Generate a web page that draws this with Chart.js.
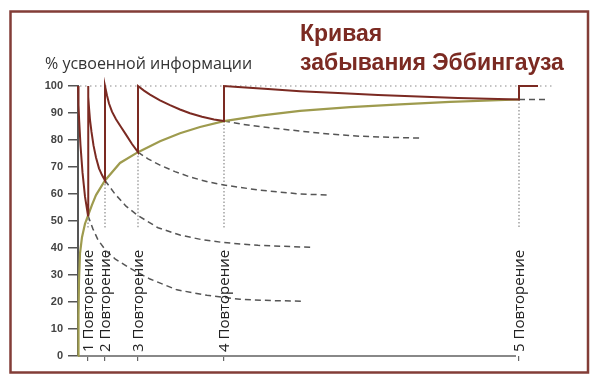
<!DOCTYPE html>
<html>
<head>
<meta charset="utf-8">
<script src="https://cdn.jsdelivr.net/npm/chart.js@4"></script>
<style>
html,body{margin:0;padding:0;background:#fff;}
#wrap{width:600px;height:384px;position:relative;}
</style>
</head>
<body>
<div id="wrap"><canvas id="c" width="600" height="384"></canvas></div>
<script>
// Time axis in arbitrary units; repetition moments
const repTimes = [10, 27, 60, 146, 441];
const repRetention = [52, 65, 75.5, 87, 95];
const repLabels = ["1 Повторение", "2 Повторение", "3 Повторение", "4 Повторение", "5 Повторение"];
const yTicks = [0, 10, 20, 30, 40, 50, 60, 70, 80, 90, 100];
const titleLines = ["Кривая", "забывания Эббингауза"];
const yTitle = "% усвоенной информации";

// Sawtooth retention curve with repetitions (x, y)
const forgetX = [0, 0.5, 1.2, 2.5, 4.5, 7, 10,
  10, 10.5, 11, 12, 13.5, 15.5, 18, 21, 24, 27,
  27, 29, 31, 34, 38, 43, 48, 54, 60,
  60, 66, 72, 82, 92, 102, 112, 124, 136, 146,
  146, 160, 190, 222, 260, 300, 340, 380, 420, 441,
  441, 460];
const forgetY = [100, 93, 87, 78, 68, 59, 52,
  100, 96, 92, 87.5, 83, 78, 73.5, 69.5, 67, 65,
  100, 96.5, 93.5, 90.5, 87.7, 84.8, 82, 78.5, 75.5,
  100, 98.3, 96.8, 94.7, 92.9, 91.3, 89.9, 88.6, 87.6, 87,
  100, 99.6, 98.9, 98.1, 97.4, 96.7, 96.1, 95.6, 95.2, 95,
  100, 100];

// Learning curve (retention level after each repetition)
const learnX = [0, 0.5, 1, 2, 4, 7, 10, 14, 18, 27, 42, 60, 82, 102, 122, 146, 182, 222, 272, 322, 372, 441];
const learnY = [0, 15, 28, 38, 44, 49, 52, 56, 59.6, 65, 71.5, 75.5, 79.5, 82.5, 84.8, 87, 89, 90.8, 92.2, 93.2, 94.1, 95];

// Forgetting without repetition (dashed)
const dash1X = [10, 15, 20, 28, 37, 52, 72, 99, 129, 162, 195, 225];
const dash1Y = [52, 47, 43, 39, 36, 32.5, 28.5, 24.5, 22.5, 21, 20.5, 20.3];
const dash2X = [27, 37, 48, 60, 80, 102, 125, 146, 180, 222, 235];
const dash2Y = [65, 60, 55.5, 52, 47.5, 44.8, 43, 42, 41, 40.4, 40.3];
const dash3X = [60, 70, 82, 97, 112, 130, 146, 180, 222, 252];
const dash3Y = [75.5, 73, 70.7, 68.3, 66.3, 64.5, 63.3, 61.5, 60, 59.6];
const dash4X = [146, 165, 190, 222, 252, 282, 312, 342];
const dash4Y = [87, 85.8, 84.6, 83.3, 82.2, 81.4, 81, 80.7];
const dash5X = [441, 470];
const dash5Y = [95, 95];

const topLineX = [2, 477];
const topLineY = [100, 100];
const axisLineX = [0, 438];
const axisLineY = [0, 0];
const guideBottom = 47.4;

const pts = (xs, ys) => xs.map((x, i) => ({x: x, y: ys[i]}));

const RED = '#7b2a22';
const GREEN = '#9e9b4e';
const DASH = '#555555';
const DOT = '#8a8a8a';

const datasets = [];
datasets.push({data: pts(forgetX, forgetY), borderColor: RED, borderWidth: 2, order: 0});
datasets.push({data: pts(learnX, learnY), borderColor: GREEN, borderWidth: 2.2, order: 1});
[[dash1X, dash1Y], [dash2X, dash2Y], [dash3X, dash3Y], [dash4X, dash4Y], [dash5X, dash5Y]].forEach(d => {
  datasets.push({data: pts(d[0], d[1]), borderColor: DASH, borderWidth: 1.5, borderDash: [6, 4], order: 2});
});
datasets.push({data: pts(topLineX, topLineY), borderColor: DOT, borderWidth: 1.2, borderDash: [1.5, 3.5], order: 3});
repTimes.forEach((t, i) => {
  datasets.push({data: [{x: t, y: repRetention[i]}, {x: t, y: guideBottom}], borderColor: DOT, borderWidth: 1.2, borderDash: [1.5, 2], order: 3});
});
datasets.push({data: pts(axisLineX, axisLineY), borderColor: '#888', borderWidth: 2, order: 5});
datasets.forEach(d => { d.fill = false; d.pointRadius = 0; d.tension = 0; d.clip = false; });

const decor = {
  id: 'decor',
  beforeDraw(chart) {
    const ctx = chart.ctx;
    ctx.save();
    ctx.strokeStyle = '#833d37';
    ctx.lineWidth = 2.5;
    ctx.strokeRect(10.5, 11.5, 577.5, 361);
    ctx.restore();
  },
  afterDraw(chart) {
    const ctx = chart.ctx;
    const xs = chart.scales.x;
    ctx.save();
    // title
    ctx.fillStyle = RED;
    ctx.font = 'bold 23px "Liberation Sans", Arial, sans-serif';
    ctx.textAlign = 'left';
    ctx.textBaseline = 'alphabetic';
    ctx.fillText(titleLines[0], 300, 41);
    ctx.fillText(titleLines[1], 300, 70);
    // y title
    ctx.fillStyle = '#333';
    ctx.font = '16px "Open Sans", sans-serif';
    ctx.fillText(yTitle, 45, 69);
    // rotated repetition labels
    ctx.font = '15px "Open Sans", sans-serif';
    ctx.fillStyle = '#222';
    ctx.textBaseline = 'middle';
    repTimes.forEach((t, i) => {
      const px = xs.getPixelForValue(t);
      ctx.save();
      ctx.translate(px + 0.5, 352);
      ctx.rotate(-Math.PI / 2);
      ctx.fillText(repLabels[i], 0, 0);
      ctx.restore();
    });
    ctx.restore();
  }
};

new Chart(document.getElementById('c'), {
  type: 'line',
  data: {datasets: datasets},
  options: {
    responsive: false,
    animation: false,
    layout: {padding: {top: 86, right: 44, left: 0, bottom: 0}},
    plugins: {legend: {display: false}, tooltip: {enabled: false}},
    scales: {
      x: {
        type: 'linear', min: 0, max: 478,
        grid: {drawOnChartArea: false, drawTicks: true, tickLength: 5, color: '#666', lineWidth: 1.2},
        border: {display: false},
        ticks: {display: false},
        afterBuildTicks(s) { s.ticks = repTimes.map(v => ({value: v, label: ''})); },
        afterFit(s) { s.height = 28; }
      },
      y: {
        type: 'linear', min: 0, max: 100,
        grid: {drawOnChartArea: false, drawTicks: true, tickLength: 10, color: '#555', lineWidth: 1.5},
        border: {color: '#555', width: 2},
        ticks: {color: '#444', font: {family: '"Liberation Sans", Arial, sans-serif', size: 11, weight: 'bold'}, padding: 5},
        afterBuildTicks(s) { s.ticks = yTicks.map(v => ({value: v})); },
        afterFit(s) { s.width = 78; }
      }
    }
  },
  plugins: [decor]
});
</script>
</body>
</html>
